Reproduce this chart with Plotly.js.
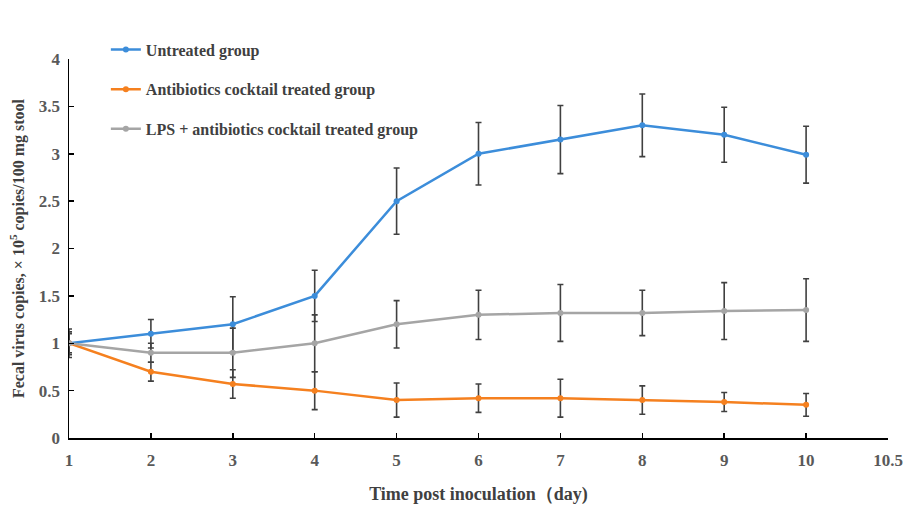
<!DOCTYPE html>
<html>
<head>
<meta charset="utf-8">
<script src="https://cdn.plot.ly/plotly-3.0.1.min.js"></script>
<style>html,body{margin:0;padding:0;background:#fff;}#chart{width:911px;height:514px;}</style>
</head>
<body>
<div id="chart"></div>
<script>
const days = ["1","2","3","4","5","6","7","8","9","10"];
const xTickLabels = ["1","2","3","4","5","6","7","8","9","10","10.5"];

const untreated = [1.0, 1.1, 1.2, 1.5, 2.5, 3.0, 3.15, 3.3, 3.2, 2.99];
const untreatedErr = [0.15, 0.15, 0.29, 0.27, 0.35, 0.33, 0.36, 0.33, 0.29, 0.3];

const antibiotics = [1.0, 0.7, 0.57, 0.5, 0.4, 0.42, 0.42, 0.4, 0.38, 0.35];
const antibioticsErr = [0.1, 0.1, 0.15, 0.2, 0.18, 0.15, 0.2, 0.15, 0.1, 0.12];

const lps = [1.0, 0.9, 0.9, 1.0, 1.2, 1.3, 1.32, 1.32, 1.34, 1.35];
const lpsErr = [0.12, 0.1, 0.26, 0.3, 0.25, 0.26, 0.3, 0.24, 0.3, 0.33];

const names = ["Untreated group", "Antibiotics cocktail treated group", "LPS + antibiotics cocktail treated group"];
const colors = ["#3C8DDA", "#F5801F", "#A5A5A5"];

function tr(y, err, i, leg) {
  return {
    type: "scatter", mode: "lines+markers",
    x: days, y: y, name: names[i], legend: leg,
    line: {color: colors[i], width: 2.5},
    marker: {color: colors[i], size: 6},
    error_y: {type: "data", array: err, visible: true, color: "#404040", thickness: 1.6, width: 3}
  };
}

const data = [
  tr(untreated, untreatedErr, 0, "legend"),
  tr(antibiotics, antibioticsErr, 1, "legend2"),
  tr(lps, lpsErr, 2, "legend3")
];

const serif = "Liberation Serif, Times New Roman, serif";
const legFont = {family: serif, size: 16, color: "#404040", weight: "bold"};
function leg(y) {
  return {x: 0.045, y: y, xanchor: "left", yanchor: "middle", bgcolor: "rgba(0,0,0,0)", font: legFont, itemwidth: 30};
}

const tickFont = {family: serif, size: 17, color: "#595959", weight: "bold"};

const layout = {
  width: 911, height: 514,
  margin: {l: 69, r: 23, t: 59, b: 76},
  paper_bgcolor: "#fff", plot_bgcolor: "#fff",
  showlegend: true,
  legend: leg(1.025),
  legend2: leg(0.92),
  legend3: leg(0.816),
  xaxis: {
    type: "category", categoryorder: "array", categoryarray: xTickLabels,
    range: [0, 10], tickvals: xTickLabels, ticktext: xTickLabels,
    showline: true, linecolor: "#000", linewidth: 1.5, showgrid: false, zeroline: false,
    ticks: "inside", ticklen: 5, tickcolor: "#000", tickwidth: 1.5,
    tickfont: tickFont, ticklabelstandoff: 6,
    title: {text: "Time post inoculation（day)", font: {family: serif, size: 18, color: "#404040", weight: "bold"}, standoff: 18}
  },
  yaxis: {
    range: [0, 4], dtick: 0.5,
    showline: true, linecolor: "#000", linewidth: 1.5, showgrid: false, zeroline: false,
    ticks: "inside", ticklen: 5, tickcolor: "#000", tickwidth: 1.5,
    tickfont: tickFont, ticklabelstandoff: 4,
    title: {text: "Fecal virus copies, × 10<sup>5</sup> copies/100 mg stool", font: {family: serif, size: 16, color: "#404040", weight: "bold"}, standoff: 10}
  }
};

Plotly.newPlot("chart", data, layout, {displayModeBar: false, staticPlot: true});
</script>
</body>
</html>
